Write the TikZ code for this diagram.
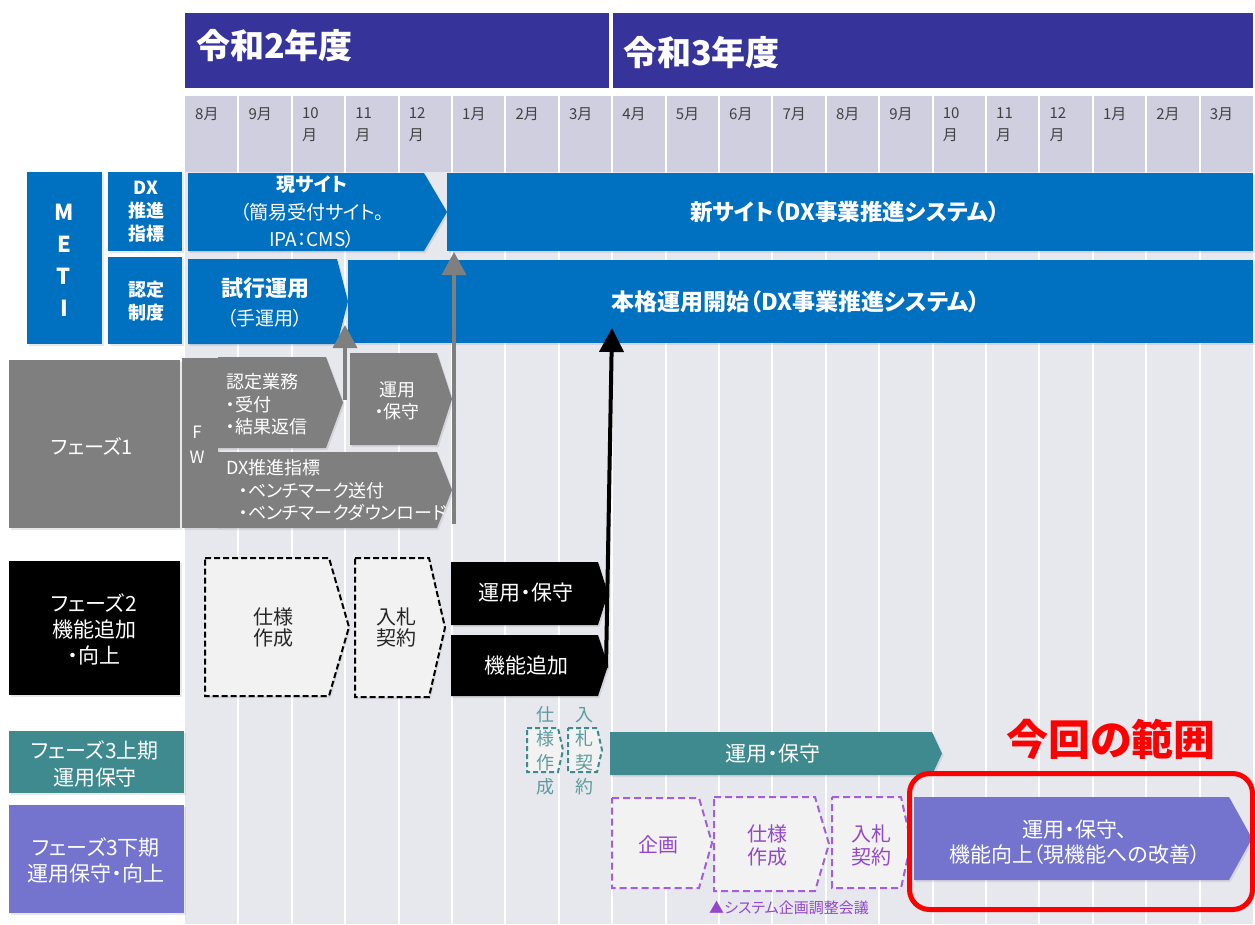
\documentclass[tikz,border=0pt]{standalone}
\usepackage{fontspec}
\setmainfont{Noto Sans CJK JP}[RawFeature=+palt]
\usetikzlibrary{arrows.meta,shadows}

\definecolor{yearblue}{HTML}{36349A}
\definecolor{monthgray}{HTML}{CFCFE0}
\definecolor{gridgray}{HTML}{E7E7EE}
\definecolor{metiblue}{HTML}{0070C0}
\definecolor{phasegray}{HTML}{7F7F7F}
\definecolor{stepfill}{HTML}{F2F2F2}
\definecolor{tealbar}{HTML}{3E8A8E}
\definecolor{violetbar}{HTML}{7474CF}
\definecolor{plumline}{HTML}{A25FD6}
\definecolor{plumtext}{HTML}{9248C8}

% chevron bar: style, x1, y1, x2, y2, tip length
\newcommand{\chevbar}[6]{%
  \path[#1] (#2,#3) -- ({#4-#6},#3) -- (#4,{(#3+#5)/2})
    -- ({#4-#6},#5) -- (#2,#5) -- cycle;}

\begin{document}
\begin{tikzpicture}[x=1pt, y=-1pt,
  txt/.style={inner sep=0pt, align=center, text=white},
  monthlbl/.style={anchor=west, align=left, inner sep=0pt, text=black!75,
    font=\fontsize{15}{22}\selectfont},
  yeartext/.style={anchor=west, inner sep=0pt, text=white,
    font=\bfseries\fontsize{34}{34}\selectfont},
  shade/.style={drop shadow={opacity=0.18, shadow xshift=1.5pt, shadow yshift=-2pt}},
  metibar/.style={fill=metiblue, shade},
  graybar/.style={fill=phasegray, shade},
  blackbar/.style={fill=black, shade},
  tealfill/.style={fill=tealbar, shade},
  violetfill/.style={fill=violetbar, shade},
  dashstep/.style={fill=stepfill, draw=black, line width=2pt,
    dash pattern=on 6pt off 3pt, shade},
  tealstep/.style={fill=stepfill, draw=tealbar, line width=2pt,
    dash pattern=on 5pt off 3pt},
  plumstep/.style={fill=stepfill, draw=plumline, line width=2pt,
    dash pattern=on 7pt off 4pt},
  grayup/.style={draw=phasegray, line width=3.5pt, -{Triangle[length=23pt,width=24pt]}},
  blackup/.style={draw=black, line width=4pt, -{Triangle[length=24pt,width=24pt]}}]

  \useasboundingbox (0,0) rectangle (1255,924);

  % Timeline background
  \fill[monthgray] (185,96) rectangle (1253,172);
  \fill[gridgray] (185,172) rectangle (1253,924);
  \foreach \i in {1,...,19}
    \draw[white, line width=2pt] ({185+53.4*\i},96) -- ({185+53.4*\i},924);

  % Fiscal years
  \fill[yearblue] (185,13) rectangle (609,88);
  \fill[yearblue] (613,13) rectangle (1253,88);
  \node[yeartext] (r2) at (196,46) {令和2年度};
  \node[yeartext] (r3) at (623,53) {令和3年度};

  % Months
  \foreach \m [count=\i from 0] in {8,9,10,11,12,1,2,3,4,5,6,7,8,9,10,11,12,1,2,3}
  {
    \ifnum\m>9
      \node[monthlbl] (mon\i) at ({195+53.4*\i},125) {\m\\月};
    \else
      \node[monthlbl] (mon\i) at ({195+53.4*\i},114) {\m 月};
    \fi
  }

  % METI
  \fill[metiblue, shade] (27,172) rectangle (102,344);
  \fill[metiblue, shade] (108,172) rectangle (182,251);
  \fill[metiblue, shade] (108,257) rectangle (182,344);
  \node[txt, font=\bfseries\fontsize{22}{32}\selectfont] (meti) at (64,260) {M\\E\\T\\I};
  \node[txt, font=\bfseries\fontsize{18}{23}\selectfont] (dxlbl) at (146,212) {DX\\推進\\指標};
  \node[txt, font=\bfseries\fontsize{18}{23}\selectfont] (certlbl) at (146,301.5) {認定\\制度};

  \chevbar{metibar}{188}{173}{447}{251}{23}
  \node[txt, font=\fontsize{19}{27.5}\selectfont] (cursite) at (312,212.5)
    {{\bfseries 現サイト}\\（簡易受付サイト。\\IPA：CMS）};
  \fill[metiblue, shade] (447,173) rectangle (1253,251);
  \node[txt, font=\bfseries\fontsize{22.5}{22}\selectfont] (newsite) at (845,212)
    {新サイト（DX事業推進システム）};

  \chevbar{metibar}{188}{259}{348}{344}{11}
  \node[txt, font=\fontsize{19}{29}\selectfont] (trial) at (265,302.5)
    {{\bfseries\fontsize{22}{29}\selectfont 試行運用}\\（手運用）};
  \fill[metiblue, shade] (348,260) rectangle (1253,343);
  \node[txt, font=\bfseries\fontsize{23}{23}\selectfont] (fullop) at (796,302)
    {本格運用開始（DX事業推進システム）};

  % Phase 1
  \fill[phasegray, shade] (9,360) rectangle (180,528);
  \node[txt, font=\fontsize{20}{26}\selectfont] (ph1) at (92,446) {フェーズ1};
  \fill[phasegray, shade] (182,358) rectangle (218,528);
  \node[txt, font=\fontsize{17}{25}\selectfont] (fw) at (197,444.5) {F\\W};
  \chevbar{graybar}{218}{357}{343}{448}{17}
  \node[txt, anchor=west, align=left, font=\fontsize{18}{22.5}\selectfont] (certwork)
    at (226,404.5) {認定業務\\・受付\\・結果返信};
  \chevbar{graybar}{350}{353}{452}{445}{15}
  \node[txt, font=\fontsize{18}{22}\selectfont] (ops1) at (397,401) {運用\\・保守};
  \chevbar{graybar}{218}{452}{452}{528}{15}
  \node[txt, anchor=west, align=left, font=\fontsize{18}{22.5}\selectfont] (dxidx)
    at (226,490.5) {DX推進指標\\\hspace*{13pt}・ベンチマーク送付\\\hspace*{13pt}・ベンチマークダウンロード};

  \coordinate (up1s) at (345,400);
  \coordinate (up1e) at (345,325);
  \draw[grayup] (up1s) -- (up1e);
  \coordinate (up2s) at (454,524);
  \coordinate (up2e) at (454,252);
  \draw[grayup] (up2s) -- (up2e);

  % Phase 2
  \fill[black, shade] (9,561) rectangle (180,695);
  \node[txt, font=\fontsize{21}{26}\selectfont] (ph2) at (94,629) {フェーズ2\\機能追加\\・向上};
  \chevbar{dashstep}{205}{558}{349}{696}{20}
  \node[txt, text=black!85, font=\fontsize{20}{21}\selectfont] (spec2) at (273,627.5) {仕様\\作成};
  \chevbar{dashstep}{355}{558}{445}{697}{16}
  \node[txt, text=black!85, font=\fontsize{20}{21}\selectfont] (bid2) at (396,627.5) {入札\\契約};
  \chevbar{blackbar}{451}{562}{608}{625}{10}
  \node[txt, font=\fontsize{21}{21}\selectfont] (ops2) at (526,593) {運用・保守};
  \chevbar{blackbar}{451}{635}{608}{696}{10}
  \node[txt, font=\fontsize{21}{21}\selectfont] (func2) at (526,665) {機能追加};

  \coordinate (up3s) at (606,668);
  \coordinate (up3e) at (612,328);
  \draw[blackup] (up3s) -- (up3e);

  % Phase 3 first half
  \fill[tealbar, shade] (9,731) rectangle (184,793);
  \node[txt, font=\fontsize{21}{27}\selectfont] (ph3a) at (95,763.5) {フェーズ3上期\\運用保守};
  \chevbar{tealstep}{527}{728}{563}{772}{5}
  \chevbar{tealstep}{568}{728}{602}{772}{5}
  \node[txt, text=tealbar!85, font=\fontsize{18}{24}\selectfont] (spec3) at (545,751) {仕\\様\\作\\成};
  \node[txt, text=tealbar!85, font=\fontsize{18}{24}\selectfont] (bid3) at (584,751) {入\\札\\契\\約};
  \chevbar{tealfill}{610}{732}{942}{775}{10}
  \node[txt, font=\fontsize{21}{21}\selectfont] (ops3a) at (773,754) {運用・保守};

  % Phase 3 second half
  \fill[violetbar, shade] (9,805) rectangle (184,913);
  \node[txt, font=\fontsize{21}{26}\selectfont] (ph3b) at (96,860) {フェーズ3下期\\運用保守・向上};
  \chevbar{plumstep}{612}{798}{712}{888}{13}
  \node[txt, text=plumtext, font=\fontsize{20}{23}\selectfont] (plan) at (658,845) {企画};
  \chevbar{plumstep}{714}{797}{829}{891}{14}
  \node[txt, text=plumtext, font=\fontsize{20}{23}\selectfont] (spec3b) at (767,845.5) {仕様\\作成};
  \chevbar{plumstep}{832}{797}{911}{888}{10}
  \node[txt, text=plumtext, font=\fontsize{20}{23}\selectfont] (bid3b) at (871,845.5) {入札\\契約};
  \node[txt, text=plumtext, font=\fontsize{15}{15}\selectfont] (meeting) at (789,908) {▲システム企画調整会議};
  \chevbar{violetfill}{914}{797}{1252}{880}{23}
  \node[txt, font=\fontsize{21}{25}\selectfont] (scope) at (1075,842.5)
    {運用・保守、\\機能向上（現機能への改善）};

  % This time
  \draw[red, line width=5pt, rounded corners=20pt] (909.5,773.5) rectangle (1252.5,909.5);
  \node[txt, text=red, font=\bfseries\fontsize{42}{42}\selectfont] (thisscope) at (1111,739) {今回の範囲};
\end{tikzpicture}
\end{document}
